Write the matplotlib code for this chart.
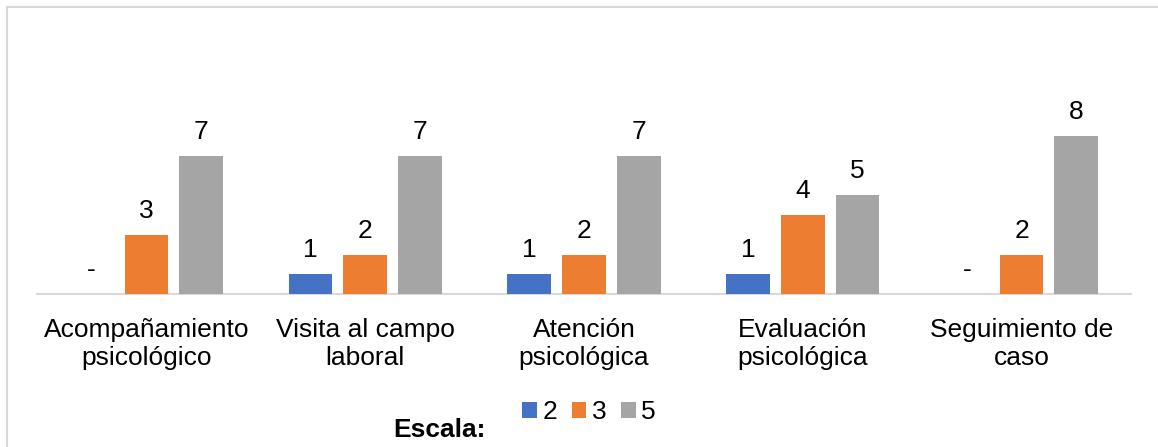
import matplotlib
matplotlib.use("Agg")
import matplotlib.pyplot as plt
from matplotlib.lines import Line2D
from matplotlib.patches import Patch
import numpy as np

plt.rcParams['font.family'] = ['Liberation Sans', 'DejaVu Sans']

categories = ["Acompañamiento\npsicológico", "Visita al campo\nlaboral",
              "Atención\npsicológica", "Evaluación\npsicológica",
              "Seguimiento de\ncaso"]
series_names = ["2", "3", "5"]
vals_2 = [0, 1, 1, 1, 0]
vals_3 = [3, 2, 2, 4, 2]
vals_5 = [7, 7, 7, 5, 8]
colors = ["#4472C4", "#ED7D31", "#A5A5A5"]

W, H = 1158, 447
fig = plt.figure(figsize=(W / 100, H / 100), dpi=100)
ax = fig.add_axes([37 / W, 1 - 294 / H, (1131 - 37) / W, 276 / H])

x = np.arange(len(categories))
width = 0.2
offsets = [-0.25, 0.0, 0.25]
handles = []
for vals, off, col, name in zip([vals_2, vals_3, vals_5], offsets, colors, series_names):
    bars = ax.bar(x + off, vals, width=width, color=col, zorder=2)
    for b, v in zip(bars, vals):
        ax.annotate("-" if v == 0 else str(v),
                    (b.get_x() + b.get_width() / 2, v),
                    xytext=(0, 12.2), textcoords="offset points",
                    ha="center", va="baseline", fontsize=19, color="#000000")
    handles.append(Patch(facecolor=col, label=name))

ax.set_xlim(-0.5, len(categories) - 0.5)
ax.set_ylim(0, 14)
ax.set_xticks(x)
ax.set_xticklabels(categories, fontsize=19, linespacing=1.22)
ax.tick_params(axis="x", length=0, pad=17)
ax.set_yticks([])
for s in ["top", "right", "left"]:
    ax.spines[s].set_visible(False)
ax.spines["bottom"].set_color("#D9D9D9")
ax.spines["bottom"].set_linewidth(1.5)
ax.spines["bottom"].set_zorder(1)

fig.legend(handles=handles, loc="center", bbox_to_anchor=(589 / W, 1 - 412 / H),
           ncol=3, frameon=False, fontsize=19, handlelength=0.55,
           handleheight=0.55, handletextpad=0.22, columnspacing=0.55,
           borderpad=0, borderaxespad=0)
fig.text(393 / W, 1 - 437 / H, "Escala:", fontsize=19, fontweight="bold",
         ha="left", va="baseline")

# chart frame
fig.add_artist(Line2D([7.5 / W, 1.0], [1 - 6.5 / H, 1 - 6.5 / H],
                      color="#D9D9D9", lw=1.5, transform=fig.transFigure))
fig.add_artist(Line2D([7.5 / W, 7.5 / W], [1 - 6.5 / H, 0.0],
                      color="#D9D9D9", lw=1.5, transform=fig.transFigure))

fig.savefig("out.png", dpi=100)
